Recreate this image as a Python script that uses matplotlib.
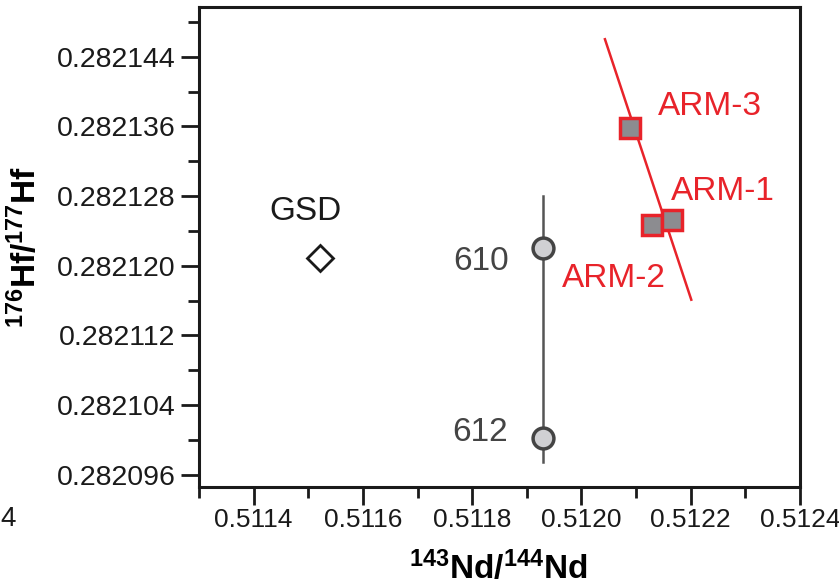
import matplotlib
matplotlib.use("Agg")
import matplotlib.pyplot as plt
from matplotlib.ticker import MultipleLocator, FormatStrFormatter

plt.rcParams['font.family'] = ['Liberation Sans', 'DejaVu Sans']
plt.rcParams['mathtext.fontset'] = 'custom'
plt.rcParams['mathtext.rm'] = 'Liberation Sans'
plt.rcParams['mathtext.bf'] = 'Liberation Sans:bold'

# samples
gsd_x, gsd_y = 0.511522, 0.2821209
ref_names = ['610', '612']
ref_x = [0.511929, 0.511929]
ref_y = [0.282122, 0.2821002]
ref_line_y = [0.282128, 0.2820975]

arm_names = ['ARM-3', 'ARM-2', 'ARM-1']
arm_x = [0.512089, 0.512129, 0.512166]
arm_y = [0.2821358, 0.2821247, 0.2821252]
trend_x = [0.512043, 0.512201]
trend_y = [0.282146, 0.2821161]

red = '#e8232a'
dark = '#444444'

fig = plt.figure(figsize=(8.39, 5.86), dpi=100)
ax = fig.add_axes([199 / 839, (586 - 487) / 586, (800 - 199) / 839, (487 - 7) / 586])

ax.plot([ref_x[0], ref_x[0]], ref_line_y, color='#555555', lw=1.8, zorder=1)
ax.plot(ref_x, ref_y, 'o', ms=15, mfc='#d0d0d3', mec=dark, mew=2.5, zorder=3)
ax.plot(gsd_x, gsd_y, 'D', ms=13, mfc='white', mec='#1a1a1a', mew=2, zorder=3)
ax.plot(trend_x, trend_y, color=red, lw=1.8, zorder=2)
ax.plot(arm_x, arm_y, 's', ms=14, mfc='#8c8c90', mec=red, mew=2.5, zorder=3)

ax.text(gsd_x - 0.0000275, 0.2821262, 'GSD', fontsize=24, color='#1a1a1a', ha='center', va='center')
ax.text(0.511868, 0.2821205, ref_names[0], fontsize=24, color=dark, ha='right', va='center')
ax.text(0.511866, 0.2821009, ref_names[1], fontsize=24, color=dark, ha='right', va='center')
ax.text(0.512236, 0.2821383, arm_names[0], fontsize=24, color=red, ha='center', va='center')
ax.text(0.512258, 0.2821285, arm_names[2], fontsize=24, color=red, ha='center', va='center')
ax.text(0.512059, 0.2821185, arm_names[1], fontsize=24, color=red, ha='center', va='center')

ax.set_xlim(0.5113, 0.5124)
ax.set_ylim(0.2820946, 0.2821497)
ax.xaxis.set_major_locator(MultipleLocator(0.0002))
ax.xaxis.set_minor_locator(MultipleLocator(0.0001))
ax.yaxis.set_major_locator(MultipleLocator(0.000008))
ax.yaxis.set_minor_locator(MultipleLocator(0.000004))
ax.xaxis.set_major_formatter(FormatStrFormatter('%.4f'))
ax.yaxis.set_major_formatter(FormatStrFormatter('%.6f'))
ax.tick_params(which='major', direction='out', length=13, width=2, labelsize=20.5, pad=4,
               colors='#1a1a1a')
ax.tick_params(which='minor', direction='out', length=8, width=2, colors='#1a1a1a')
ax.tick_params(axis='x', which='major', labelsize=19, pad=2)
ax.tick_params(top=False, right=False, which='both')
for s in ax.spines.values():
    s.set_linewidth(2.2)
    s.set_color('#1a1a1a')

xlab = r'$\mathregular{^{143}}$Nd/$\mathregular{^{144}}$Nd'
ylab = r'$\mathregular{^{176}}$Hf/$\mathregular{^{177}}$Hf'
ax.set_xlabel(xlab, fontsize=24, fontweight='bold')
ax.set_ylabel(ylab, fontsize=24, fontweight='bold')
ax.xaxis.set_label_coords(0.497, -0.133)
ax.yaxis.set_label_coords(-0.26, 0.5)
ax.xaxis.label.set_va('top')

fig.text(8 / 839, 1 - 519 / 586, '4', fontsize=20, color='#1a1a1a', ha='center', va='center')

fig.savefig('out.png', dpi=100)
